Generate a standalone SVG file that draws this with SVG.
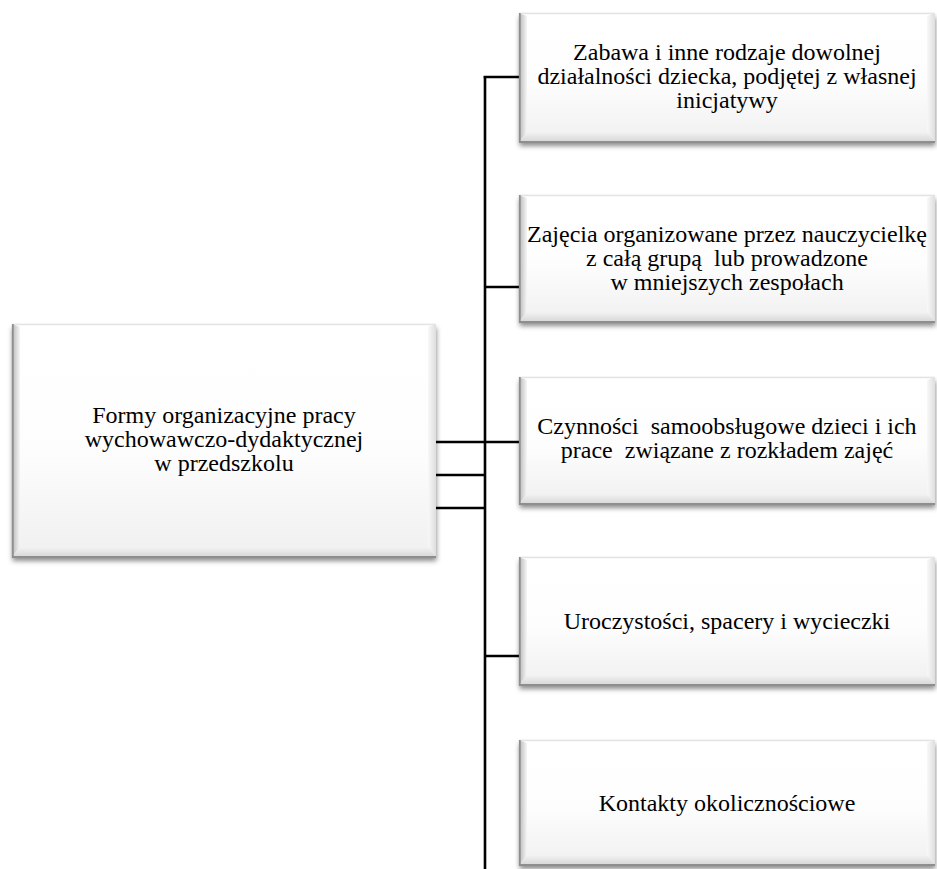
<svg xmlns="http://www.w3.org/2000/svg" width="937" height="869" viewBox="0 0 937 869">
<style>
  .face { fill: url(#face); filter: url(#sh); }
  .bl { fill: url(#bevL); }
  .br { fill: url(#bevR); }
  .bb { fill: url(#bevB); }
  .et { stroke: #e4e4e4; stroke-width: 1.5; fill: none; }
  .ed { stroke: #8e8e8e; stroke-width: 1.8; fill: none; }
  .lbl { font-family: "Liberation Serif", "Times New Roman", serif; font-size: 24px; fill: #000; text-anchor: middle; white-space: pre; }
  .conn path { stroke: #000; stroke-width: 2.6; fill: none; }
</style>
<defs>
  <linearGradient id="face" x1="0" y1="0" x2="0" y2="1">
    <stop offset="0" stop-color="#ffffff"/>
    <stop offset="0.55" stop-color="#fdfdfd"/>
    <stop offset="1" stop-color="#f0f0f0"/>
  </linearGradient>
  <linearGradient id="bevL" x1="0" y1="0" x2="1" y2="0">
    <stop offset="0" stop-color="#b8b8b8"/>
    <stop offset="1" stop-color="#f6f6f6"/>
  </linearGradient>
  <linearGradient id="bevR" x1="1" y1="0" x2="0" y2="0">
    <stop offset="0" stop-color="#dedede"/>
    <stop offset="1" stop-color="#f8f8f8"/>
  </linearGradient>
  <linearGradient id="bevB" x1="0" y1="0" x2="0" y2="1">
    <stop offset="0" stop-color="#f3f3f3"/>
    <stop offset="1" stop-color="#d6d6d6"/>
  </linearGradient>
  <filter id="sh" x="-5%" y="-10%" width="110%" height="125%">
    <feDropShadow dx="0.5" dy="4" stdDeviation="2.5" flood-color="#000" flood-opacity="0.45"/>
  </filter>
</defs>
<rect width="937" height="869" fill="#ffffff"/>

<g class="conn" id="connectors">
  <path d="M485,76 V869"/>
  <path d="M483.7,77 H519"/>
  <path d="M485,287 H519"/>
  <path d="M436,442 H519"/>
  <path d="M436,475 H485"/>
  <path d="M436,508 H485"/>
  <path d="M485,656 H519"/>
</g>

<g id="root" transform="translate(12,324)">
  <rect class="face" x="0" y="0" width="424" height="233"/>
  <polygon class="bl" points="0,0 8,3 8,223 0,233"/>
  <polygon class="br" points="424,0 416,3 416,223 424,233"/>
  <polygon class="bb" points="0,233 8,223 416,223 424,233"/>
  <path class="et" d="M0,0.5 H424"/>
  <path class="ed" d="M0.8,0 V233 H424"/>
  <text class="lbl" x="212" y="99">Formy organizacyjne pracy</text>
  <text class="lbl" x="212" y="123">wychowawczo-dydaktycznej</text>
  <text class="lbl" x="212" y="147">w przedszkolu</text>
</g>

<g id="n1" transform="translate(519,13)">
  <rect class="face" x="0" y="0" width="416" height="129"/>
  <polygon class="bl" points="0,0 8,3 8,119 0,129"/>
  <polygon class="br" points="416,0 408,3 408,119 416,129"/>
  <polygon class="bb" points="0,129 8,119 408,119 416,129"/>
  <path class="et" d="M0,0.5 H416"/>
  <path class="ed" d="M0.8,0 V129 H416"/>
  <text class="lbl" x="208" y="47">Zabawa i inne rodzaje dowolnej</text>
  <text class="lbl" x="208" y="71">działalności dziecka, podjętej z własnej</text>
  <text class="lbl" x="208" y="95">inicjatywy</text>
</g>

<g id="n2" transform="translate(519,195)">
  <rect class="face" x="0" y="0" width="416" height="127"/>
  <polygon class="bl" points="0,0 8,3 8,117 0,127"/>
  <polygon class="br" points="416,0 408,3 408,117 416,127"/>
  <polygon class="bb" points="0,127 8,117 408,117 416,127"/>
  <path class="et" d="M0,0.5 H416"/>
  <path class="ed" d="M0.8,0 V127 H416"/>
  <text class="lbl" x="208" y="47">Zajęcia organizowane przez nauczycielkę</text>
  <text class="lbl" x="208" y="71">z całą grupą  lub prowadzone</text>
  <text class="lbl" x="208" y="95">w mniejszych zespołach</text>
</g>

<g id="n3" transform="translate(519,377)">
  <rect class="face" x="0" y="0" width="416" height="127"/>
  <polygon class="bl" points="0,0 8,3 8,117 0,127"/>
  <polygon class="br" points="416,0 408,3 408,117 416,127"/>
  <polygon class="bb" points="0,127 8,117 408,117 416,127"/>
  <path class="et" d="M0,0.5 H416"/>
  <path class="ed" d="M0.8,0 V127 H416"/>
  <text class="lbl" x="208" y="57">Czynności  samoobsługowe dzieci i ich</text>
  <text class="lbl" x="208" y="81">prace  związane z rozkładem zajęć</text>
</g>

<g id="n4" transform="translate(519,557)">
  <rect class="face" x="0" y="0" width="416" height="128"/>
  <polygon class="bl" points="0,0 8,3 8,118 0,128"/>
  <polygon class="br" points="416,0 408,3 408,118 416,128"/>
  <polygon class="bb" points="0,128 8,118 408,118 416,128"/>
  <path class="et" d="M0,0.5 H416"/>
  <path class="ed" d="M0.8,0 V128 H416"/>
  <text class="lbl" x="208" y="72">Uroczystości, spacery i wycieczki</text>
</g>

<g id="n5" transform="translate(519,740)">
  <rect class="face" x="0" y="0" width="416" height="125"/>
  <polygon class="bl" points="0,0 8,3 8,115 0,125"/>
  <polygon class="br" points="416,0 408,3 408,115 416,125"/>
  <polygon class="bb" points="0,125 8,115 408,115 416,125"/>
  <path class="et" d="M0,0.5 H416"/>
  <path class="ed" d="M0.8,0 V125 H416"/>
  <text class="lbl" x="208" y="71">Kontakty okolicznościowe</text>
</g>
</svg>
